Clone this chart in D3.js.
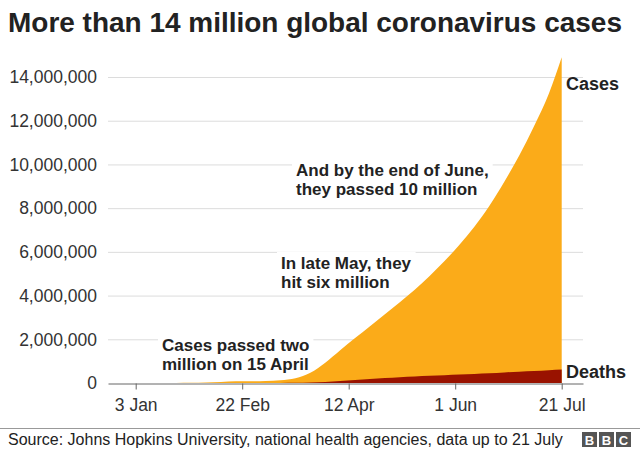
<!DOCTYPE html>
<html>
<head>
<meta charset="utf-8">
<script src="https://cdn.jsdelivr.net/npm/d3@7"></script>
<style>
    body { margin: 0; background: #fff; }
    svg { display: block; font-family: 'Liberation Sans', Arial, Helvetica, sans-serif; }
</style>
</head>
<body>
<script>
// weekly cumulative totals
const dates = ['2020-01-22', '2020-01-29', '2020-02-05', '2020-02-12', '2020-02-19', '2020-02-26',
    '2020-03-04', '2020-03-11', '2020-03-18', '2020-03-25', '2020-04-01', '2020-04-08',
    '2020-04-15', '2020-04-22', '2020-04-29', '2020-05-06', '2020-05-13', '2020-05-20',
    '2020-05-27', '2020-06-03', '2020-06-10', '2020-06-17', '2020-06-24', '2020-07-01',
    '2020-07-08', '2020-07-15', '2020-07-21']
const cases = [555, 6200, 28000, 45000, 76000, 81000,
    95000, 126000, 215000, 470000, 930000, 1500000,
    2060000, 2600000, 3150000, 3700000, 4270000, 4900000,
    5580000, 6320000, 7150000, 8100000, 9200000, 10400000,
    11750000, 13250000, 14900000]
const deaths = [17, 130, 560, 1100, 2100, 2800,
    3300, 4600, 8700, 21000, 47000, 88000,
    134000, 183000, 228000, 264000, 297000, 328000,
    356000, 386000, 416000, 446000, 485000, 517000,
    549000, 585000, 615000]

const tickDates = ['2020-01-03', '2020-02-22', '2020-04-12', '2020-06-01', '2020-07-21']
const yTicks = [0, 2000000, 4000000, 6000000, 8000000, 10000000, 12000000, 14000000]

const title = 'More than 14 million global coronavirus cases'
const source = 'Source: Johns Hopkins University, national health agencies, data up to 21 July'
const notes = [
    ['And by the end of June,', 'they passed 10 million'],
    ['In late May, they', 'hit six million'],
    ['Cases passed two', 'million on 15 April']
]
const seriesLabels = ['Cases', 'Deaths']

const drawChart = () => {
    const w = 640
    const h = 450

    const parse = d3.timeParse('%Y-%m-%d')

    const svg = d3.select('body').append('svg')
        .attr('width', w)
        .attr('height', h)

    const x = d3.scaleTime()
        .domain([parse('2019-12-21'), parse('2020-07-31')])
        .range([108, 583])

    const y = d3.scaleLinear()
        .domain([0, 14000000])
        .range([383, 77])

    // title, shrunk to fit the width
    const titleText = svg.append('text')
        .attr('x', 8)
        .attr('y', 32)
        .attr('font-weight', 'bold')
        .attr('font-size', 100)
        .attr('fill', '#222')
        .text(title)
    titleText.attr('font-size', 100 * 614 / titleText.node().getComputedTextLength())

    // gridlines
    svg.append('g').selectAll('line')
        .data(yTicks.filter(d => d > 0))
        .enter()
        .append('line')
        .attr('x1', 108)
        .attr('x2', 583)
        .attr('y1', d => y(d) + 0.5)
        .attr('y2', d => y(d) + 0.5)
        .attr('stroke', '#dcdcdc')
        .attr('stroke-width', 1)

    svg.append('g').selectAll('text')
        .data(yTicks)
        .enter()
        .append('text')
        .attr('x', 97)
        .attr('y', d => y(d))
        .attr('dy', '0.36em')
        .attr('text-anchor', 'end')
        .attr('font-size', 17.5)
        .attr('fill', '#333')
        .text(d => d3.format(',')(d))

    // annotations: white boxes go under the areas, the text on top
    const notePos = [[296, 176], [281, 269], [162, 351]]
    const noteBoxes = svg.append('g')

    const cData = dates.map((d, i) => ({ date: parse(d), value: cases[i] }))
    const dData = dates.map((d, i) => ({ date: parse(d), value: deaths[i] }))

    const area = d3.area()
        .x(d => x(d.date))
        .y0(y(0))
        .y1(d => y(d.value))
        .curve(d3.curveMonotoneX)

    svg.append('path')
        .datum(cData)
        .attr('d', area)
        .attr('fill', '#fbab19')

    svg.append('path')
        .datum(dData)
        .attr('d', area)
        .attr('fill', '#991200')

    const noteText = svg.append('g').selectAll('text')
        .data(notes)
        .enter()
        .append('text')
        .attr('x', (d, i) => notePos[i][0])
        .attr('y', (d, i) => notePos[i][1])
        .attr('font-size', 17)
        .attr('font-weight', 'bold')
        .attr('fill', '#222')

    noteText.selectAll('tspan')
        .data(d => d)
        .enter()
        .append('tspan')
        .attr('x', function () { return this.parentNode.getAttribute('x') })
        .attr('dy', (d, i) => i === 0 ? 0 : 18.5)
        .text(d => d)

    noteText.each(function () {
        const b = this.getBBox()
        noteBoxes.append('rect')
            .attr('x', b.x - 4)
            .attr('y', b.y - 2)
            .attr('width', b.width + 8)
            .attr('height', b.height + 4)
            .attr('fill', '#fff')
    })

    // x axis
    const xAxis = d3.axisBottom(x)
        .tickValues(tickDates.map(parse))
        .tickFormat(d3.timeFormat('%-d %b'))
        .tickSize(6)
        .tickSizeOuter(0)
        .tickPadding(9)

    const gx = svg.append('g')
        .attr('transform', `translate(0, ${y(0) + 0.5})`)
        .call(xAxis)

    gx.select('.domain').attr('stroke', '#666')
    gx.selectAll('.tick line').attr('stroke', '#666')
    gx.selectAll('.tick text')
        .attr('font-size', 17.5)
        .attr('fill', '#333')
    gx.attr('font-family', null)

    // series labels at the right end
    const last = dates.length - 1
    svg.append('g').selectAll('text')
        .data(seriesLabels)
        .enter()
        .append('text')
        .attr('x', 566)
        .attr('y', (d, i) => i === 0 ? y(cases[last]) + 33 : y(deaths[last]) + 8)
        .attr('font-size', 18)
        .attr('font-weight', 'bold')
        .attr('fill', '#222')
        .text(d => d)

    // footer
    svg.append('line')
        .attr('x1', 0)
        .attr('x2', w)
        .attr('y1', 428.5)
        .attr('y2', 428.5)
        .attr('stroke', '#999')

    const sourceText = svg.append('text')
        .attr('x', 8)
        .attr('y', 445)
        .attr('font-size', 100)
        .attr('fill', '#222')
        .text(source)
    sourceText.attr('font-size', 100 * 555 / sourceText.node().getComputedTextLength())

    const logo = svg.append('g').selectAll('g')
        .data(['B', 'B', 'C'])
        .enter()
        .append('g')
        .attr('transform', (d, i) => `translate(${582 + i * 17}, 432)`)

    logo.append('rect')
        .attr('width', 15)
        .attr('height', 15)
        .attr('fill', '#555')

    logo.append('text')
        .attr('x', 7.5)
        .attr('y', 12.5)
        .attr('text-anchor', 'middle')
        .attr('font-size', 13)
        .attr('font-weight', 'bold')
        .attr('fill', '#fff')
        .text(d => d)
}

drawChart()
</script>
</body>
</html>
